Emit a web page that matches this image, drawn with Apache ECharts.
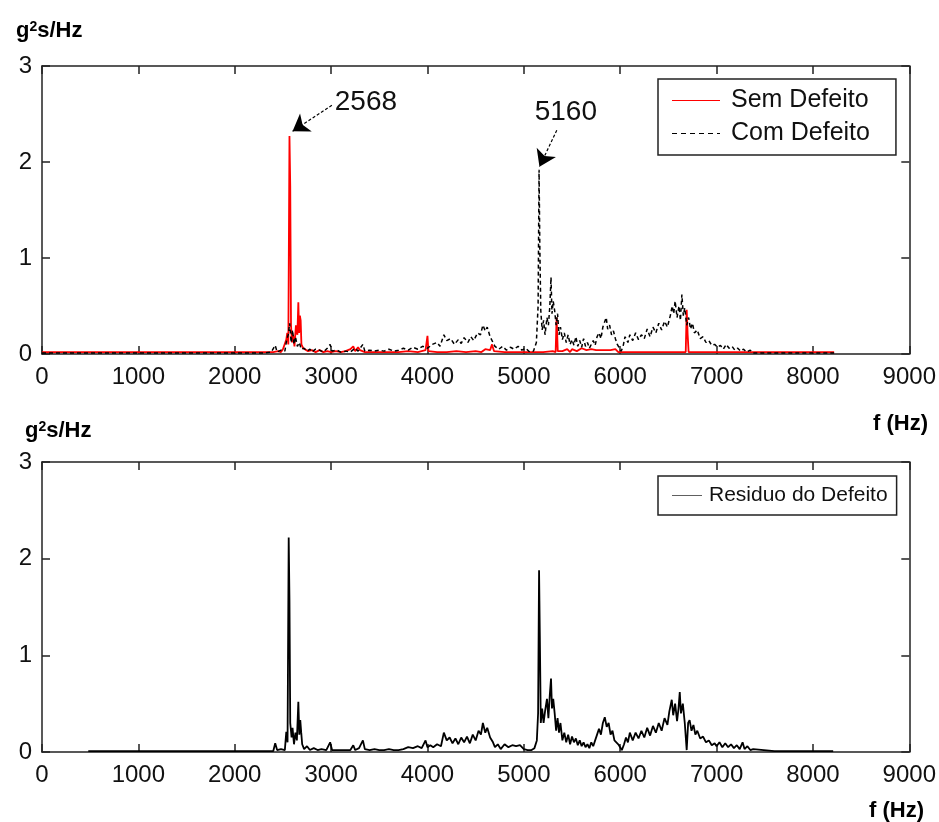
<!DOCTYPE html>
<html><head><meta charset="utf-8">
<script src="https://cdn.jsdelivr.net/npm/echarts@6/dist/echarts.min.js"></script>
<style>html,body{margin:0;padding:0;background:#fff}#c{width:939px;height:822px}</style>
</head><body><div id="c"></div>
<script>
// ---- data (frequency Hz, PSD g^2 s/Hz) ----
const xMin = 0, xMax = 9000, xStep = 1000;
const yMin = 0, yMax = 3, yStep = 1;
const xLabelTop = 'f (Hz)';
const yLabel = ['g', '2', 's/Hz'];

const semDefeito = [
[0,0.02],[500,0.02],[1000,0.02],[1500,0.02],[2000,0.02],[2400,0.02],[2450,0.03],[2480,0.02],[2500,0.05],[2520,0.04],[2535,0.15],[2545,0.22],[2556,0.1],
[2568,2.27],[2576,1.75],[2584,0.3],[2594,0.12],[2605,0.2],[2620,0.08],[2635,0.3],[2650,0.2],[2660,0.54],[2668,0.22],[2676,0.4],[2684,0.35],[2692,0.1],
[2710,0.06],[2730,0.05],[2760,0.03],[2800,0.04],[2840,0.02],[2880,0.04],[2920,0.02],[2960,0.03],[3000,0.02],[3050,0.03],[3100,0.02],[3150,0.03],
[3200,0.05],[3230,0.08],[3250,0.03],[3280,0.07],[3300,0.04],[3350,0.02],[3400,0.02],[3500,0.02],[3600,0.02],[3700,0.02],[3800,0.03],[3900,0.02],
[3980,0.04],[4000,0.19],[4010,0.03],[4100,0.02],[4200,0.02],[4300,0.03],[4400,0.02],[4500,0.03],[4560,0.02],[4600,0.05],[4650,0.04],[4670,0.1],
[4690,0.03],[4800,0.02],[4900,0.02],[5000,0.02],[5100,0.02],[5200,0.02],[5300,0.03],[5330,0.02],[5340,0.38],[5352,0.03],[5400,0.03],[5450,0.05],
[5480,0.02],[5500,0.05],[5550,0.03],[5600,0.06],[5650,0.04],[5700,0.05],[5750,0.04],[5800,0.04],[5850,0.04],[5900,0.04],[5950,0.05],[5980,0.02],
[6000,0.02],[6100,0.02],[6200,0.02],[6300,0.02],[6400,0.02],[6500,0.02],[6600,0.02],[6680,0.02],[6690,0.46],[6700,0.2],[6710,0.02],[6800,0.02],
[7000,0.02],[7500,0.02],[8000,0.02],[8220,0.02]
];

const comDefeito = [
[0,0.01],[400,0.01],[800,0.01],[1200,0.01],[1600,0.01],[2000,0.01],[2300,0.01],[2380,0.02],[2420,0.09],[2440,0.02],[2480,0.04],[2520,0.03],
[2540,0.15],[2555,0.2],[2570,0.32],[2585,0.12],[2600,0.25],[2615,0.1],[2630,0.18],[2650,0.08],[2670,0.12],[2690,0.05],[2720,0.06],[2750,0.03],
[2780,0.05],[2800,0.02],[2840,0.05],[2880,0.04],[2920,0.02],[2960,0.06],[2990,0.1],[3010,0.03],[3060,0.04],[3100,0.02],[3150,0.03],[3200,0.02],
[3250,0.06],[3280,0.03],[3330,0.1],[3350,0.03],[3400,0.04],[3450,0.03],[3500,0.04],[3550,0.03],[3600,0.05],[3650,0.03],[3700,0.04],[3750,0.06],
[3800,0.04],[3850,0.07],[3900,0.05],[3950,0.08],[4000,0.06],[4050,0.1],[4100,0.12],[4130,0.08],[4170,0.2],[4200,0.14],[4240,0.16],[4280,0.1],
[4320,0.15],[4350,0.11],[4380,0.17],[4420,0.12],[4450,0.18],[4480,0.14],[4520,0.22],[4550,0.2],[4575,0.3],[4600,0.24],[4620,0.28],[4650,0.18],
[4680,0.12],[4700,0.08],[4740,0.05],[4780,0.08],[4820,0.04],[4860,0.07],[4900,0.05],[4940,0.08],[4980,0.04],[5020,0.06],[5060,0.02],[5100,0.03],
[5130,0.12],[5148,0.5],[5158,1.92],[5166,1.1],[5176,0.45],[5190,0.25],[5205,0.35],[5220,0.2],[5240,0.38],[5255,0.3],[5270,0.5],[5282,0.8],
[5292,0.42],[5305,0.55],[5320,0.45],[5335,0.3],[5350,0.42],[5365,0.2],[5380,0.28],[5400,0.15],[5420,0.22],[5440,0.12],[5460,0.2],[5480,0.1],
[5500,0.15],[5520,0.09],[5540,0.18],[5560,0.08],[5580,0.14],[5600,0.07],[5620,0.16],[5640,0.08],[5660,0.12],[5680,0.06],[5700,0.1],[5720,0.14],
[5740,0.09],[5760,0.18],[5780,0.22],[5800,0.16],[5820,0.28],[5840,0.3],[5855,0.38],[5870,0.26],[5890,0.3],[5910,0.2],[5930,0.24],[5950,0.16],
[5970,0.1],[5990,0.12],[6010,0.03],[6030,0.08],[6050,0.18],[6080,0.12],[6100,0.2],[6130,0.14],[6160,0.22],[6190,0.15],[6220,0.2],[6250,0.16],
[6280,0.26],[6310,0.18],[6340,0.28],[6370,0.22],[6400,0.32],[6430,0.25],[6460,0.34],[6490,0.28],[6520,0.4],[6540,0.5],[6555,0.42],[6570,0.55],
[6590,0.38],[6610,0.5],[6625,0.35],[6640,0.62],[6655,0.4],[6670,0.48],[6690,0.3],[6710,0.38],[6730,0.26],[6750,0.32],[6770,0.22],[6800,0.25],
[6830,0.16],[6860,0.18],[6890,0.12],[6920,0.14],[6950,0.09],[6980,0.1],[7010,0.07],[7040,0.09],[7070,0.05],[7100,0.1],[7130,0.06],[7160,0.08],
[7190,0.04],[7220,0.06],[7250,0.03],[7280,0.05],[7310,0.02],[7350,0.04],[7380,0.01],[7500,0.01],[7800,0.01],[8000,0.01],[8220,0.01]
];

const residuo = [
[480,0.01],[800,0.01],[1200,0.01],[1600,0.01],[2000,0.01],[2400,0.01],[2420,0.09],[2440,0.02],[2480,0.03],[2520,0.02],[2535,0.21],[2548,0.1],
[2560,2.22],[2568,1.57],[2576,0.3],[2590,0.15],[2600,0.25],[2615,0.08],[2630,0.2],[2645,0.12],[2660,0.52],[2670,0.18],[2680,0.33],[2690,0.2],
[2700,0.08],[2720,0.03],[2750,0.06],[2780,0.02],[2820,0.04],[2860,0.02],[2900,0.03],[2950,0.02],[2990,0.1],[3010,0.02],[3100,0.02],[3200,0.02],
[3230,0.07],[3250,0.02],[3290,0.04],[3330,0.12],[3350,0.03],[3400,0.02],[3450,0.03],[3500,0.02],[3550,0.02],[3600,0.03],[3650,0.02],[3700,0.02],
[3750,0.03],[3800,0.05],[3850,0.04],[3900,0.06],[3940,0.04],[3980,0.12],[4000,0.05],[4030,0.07],[4060,0.05],[4100,0.08],[4140,0.06],[4170,0.2],
[4200,0.12],[4230,0.15],[4260,0.09],[4290,0.14],[4320,0.08],[4350,0.15],[4380,0.1],[4410,0.16],[4440,0.09],[4470,0.18],[4500,0.12],[4530,0.22],
[4555,0.18],[4575,0.3],[4600,0.2],[4620,0.25],[4650,0.15],[4680,0.1],[4700,0.05],[4730,0.08],[4760,0.03],[4800,0.08],[4840,0.05],[4880,0.07],
[4920,0.06],[4960,0.07],[5000,0.03],[5040,0.02],[5080,0.02],[5110,0.04],[5135,0.12],[5148,0.4],[5158,1.88],[5166,1.2],[5176,0.3],[5190,0.45],
[5205,0.3],[5220,0.42],[5240,0.55],[5255,0.35],[5270,0.6],[5282,0.76],[5292,0.45],[5305,0.55],[5320,0.4],[5335,0.22],[5350,0.35],[5365,0.2],
[5380,0.3],[5400,0.12],[5420,0.2],[5440,0.1],[5460,0.18],[5480,0.08],[5500,0.16],[5520,0.1],[5540,0.14],[5560,0.07],[5580,0.12],[5600,0.06],
[5620,0.1],[5640,0.05],[5660,0.08],[5680,0.04],[5700,0.1],[5720,0.06],[5740,0.12],[5760,0.18],[5780,0.24],[5800,0.18],[5820,0.3],[5840,0.36],
[5860,0.26],[5880,0.3],[5900,0.18],[5920,0.22],[5940,0.12],[5960,0.1],[5980,0.08],[6000,0.1],[6017,0.02],[6040,0.08],[6060,0.15],[6080,0.1],
[6100,0.2],[6130,0.12],[6160,0.2],[6190,0.14],[6220,0.22],[6250,0.15],[6280,0.25],[6310,0.17],[6340,0.27],[6370,0.2],[6400,0.3],[6430,0.22],
[6460,0.35],[6490,0.28],[6510,0.42],[6535,0.54],[6550,0.38],[6570,0.5],[6590,0.32],[6605,0.45],[6618,0.62],[6630,0.4],[6650,0.5],[6670,0.3],
[6690,0.02],[6705,0.3],[6720,0.33],[6740,0.22],[6760,0.28],[6780,0.18],[6800,0.22],[6830,0.14],[6860,0.16],[6890,0.1],[6920,0.12],[6950,0.07],
[6980,0.09],[7000,0.06],[7030,0.1],[7060,0.05],[7090,0.09],[7120,0.05],[7150,0.08],[7180,0.04],[7210,0.07],[7240,0.03],[7270,0.1],[7290,0.03],
[7320,0.06],[7350,0.02],[7380,0.03],[7400,0.01],[7600,0.01],[8000,0.01],[8210,0.01]
];

// annotations in data coordinates: label text position, arrow start, arrow tip
const annotations = [
  {label:'2568', text:[3361,2.625], from:[3008,2.59], to:[2600,2.32]},
  {label:'5160', text:[5436,2.52],  from:[5342,2.33], to:[5162,1.95]}
];

// ---- chart ----
const FONT = "'Liberation Sans', Arial, sans-serif";
const AX = '#222';
const plain = v => String(v);
function xAx(g, pos, labels){
  return {gridIndex:g, type:'value', min:xMin, max:xMax, interval:xStep, position:pos,
    axisLine:{show:true, onZero:false, lineStyle:{color:AX, width:1.5}},
    axisTick:{show:true, inside:true, length:8, lineStyle:{color:AX, width:1.5}},
    axisLabel:{show:labels, fontSize:24, margin:11, color:'#111', fontFamily:FONT, formatter:plain},
    splitLine:{show:false}};
}
function yAx(g, pos, labels){
  return {gridIndex:g, type:'value', min:yMin, max:yMax, interval:yStep, position:pos,
    axisLine:{show:true, onZero:false, lineStyle:{color:AX, width:1.5}},
    axisTick:{show:true, inside:true, length:8, lineStyle:{color:AX, width:1.5}},
    axisLabel:{show:labels, fontSize:24, margin:10, color:'#111', fontFamily:FONT, formatter:plain},
    splitLine:{show:false}};
}
const titleRich = {
  a:{fontSize:22, fontWeight:'bold', fontFamily:FONT, color:'#000'},
  s:{fontSize:14, fontWeight:'bold', fontFamily:FONT, color:'#000', verticalAlign:'top', padding:[0,0,8,0]}
};
const yTitle = '{a|'+yLabel[0]+'}{s|'+yLabel[1]+'}{a|'+yLabel[2]+'}';

// legend icons: solid line / dashed line drawn as filled paths
const ICON_SOLID = 'path://M0,0h48v1h-48z';
const ICON_DASH = 'path://M0,0h5v1h-5z M9,0h5v1h-5z M18,0h5v1h-5z M27,0h5v1h-5z M36,0h5v1h-5z M45,0h3v1h-3z';

const chart = echarts.init(document.getElementById('c'), null, {renderer:'canvas'});
chart.setOption({
  animation:false,
  backgroundColor:'#fff',
  title:[
    {text:yTitle, left:11, top:15, textStyle:{rich:titleRich}},
    {text:yTitle, left:20, top:415, textStyle:{rich:titleRich}},
    {text:xLabelTop, right:6, top:408, textStyle:{fontSize:22, fontWeight:'bold', fontFamily:FONT, color:'#000'}},
    {text:xLabelTop, right:10, top:795, textStyle:{fontSize:22, fontWeight:'bold', fontFamily:FONT, color:'#000'}}
  ],
  grid:[
    {left:42, right:29, top:66, height:288},
    {left:42, right:29, top:462, height:290}
  ],
  xAxis:[xAx(0,'bottom',true), xAx(0,'top',false), xAx(1,'bottom',true), xAx(1,'top',false)],
  yAxis:[yAx(0,'left',true), yAx(0,'right',false), yAx(1,'left',true), yAx(1,'right',false)],
  legend:[
    {data:[{name:'Sem Defeito', icon:ICON_SOLID},{name:'Com Defeito', icon:ICON_DASH}],
     orient:'vertical', left:658, top:79,
     itemWidth:48, itemHeight:2, itemGap:8, padding:[9,26,9,14],
     borderColor:'#222', borderWidth:1.5, backgroundColor:'#fff',
     textStyle:{fontSize:25, fontFamily:FONT, color:'#111', padding:[0,0,0,6]}, selectedMode:false},
    {data:[{name:'Residuo do Defeito', icon:ICON_SOLID}], orient:'vertical', left:658, top:476,
     itemWidth:30, itemHeight:2, padding:[9,9,9,14],
     borderColor:'#222', borderWidth:1.5, backgroundColor:'#fff',
     textStyle:{fontSize:21, fontFamily:FONT, color:'#111', padding:[0,0,0,2]}, selectedMode:false}
  ],
  series:[
    {name:'Sem Defeito', type:'line', xAxisIndex:0, yAxisIndex:0, data:semDefeito,
     symbol:'none', showSymbol:false, z:2,
     lineStyle:{color:'#ff0000', width:1.8}, itemStyle:{color:'#ff0000'}},
    {name:'Com Defeito', type:'line', xAxisIndex:0, yAxisIndex:0, data:comDefeito,
     symbol:'none', showSymbol:false, z:3,
     lineStyle:{color:'#000', width:1.5, type:[4,3]}, itemStyle:{color:'#000'},
     markLine:{silent:true, symbol:['none','arrow'], symbolSize:16, animation:false,
       lineStyle:{color:'#000', width:1.2, type:[3,2]}, itemStyle:{color:'#000'}, label:{show:false},
       data:annotations.map(a=>[{coord:a.from},{coord:a.to}])},
     markPoint:{silent:true, symbol:'circle', symbolSize:1, itemStyle:{color:'rgba(0,0,0,0)'},
       label:{show:true, position:'inside', formatter:'{b}', fontSize:28, fontFamily:FONT, color:'#111'},
       data:annotations.map(a=>({name:a.label, coord:a.text}))}},
    {name:'Residuo do Defeito', type:'line', xAxisIndex:2, yAxisIndex:2, data:residuo,
     symbol:'none', showSymbol:false, z:3,
     lineStyle:{color:'#000', width:1.8}, itemStyle:{color:'#000'}}
  ]
});
</script>
</body></html>
